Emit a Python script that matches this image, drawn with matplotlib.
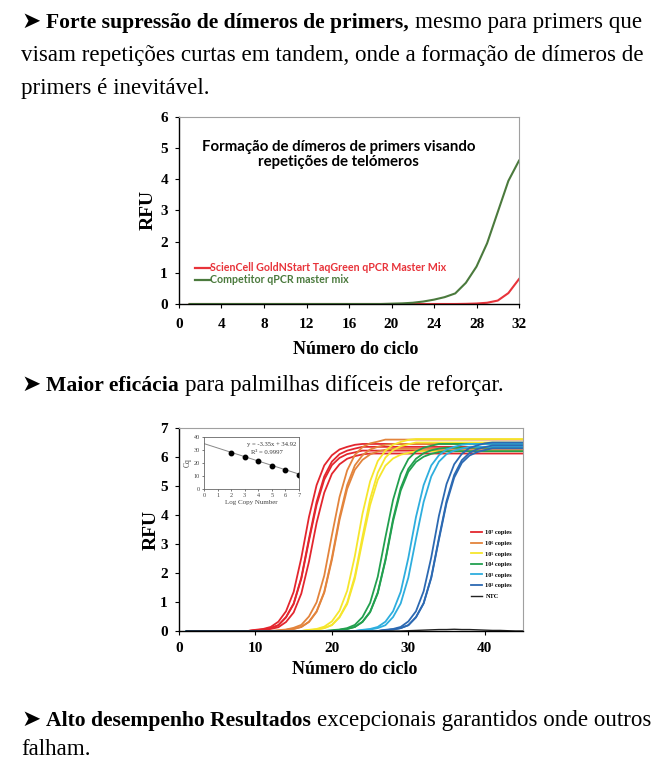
import numpy as np
import matplotlib
matplotlib.use("Agg")
import matplotlib.pyplot as plt

W, H = 659, 768
SERIF = ["Liberation Serif", "DejaVu Serif"]
ARROW = ["DejaVu Sans"]

# ---- chart 1: primer dimer formation (RFU per cycle) ----
cycles1 = np.arange(1, 33)
competitor = [0.0] * 19 + [0.01, 0.02, 0.04, 0.08, 0.14, 0.22, 0.34, 0.68,
                           1.2, 1.95, 2.95, 3.95, 4.6]
sciencell = [0.0] * 26 + [0.005, 0.015, 0.04, 0.11, 0.35, 0.8]
label_sc = "ScienCell GoldNStart TaqGreen qPCR Master Mix"
label_comp = "Competitor qPCR master mix"

# ---- chart 2: dilution series, (start cycle, rising values) per replicate ----
curves = {
    "red": [(10, [0.04, 0.07, 0.14, 0.32, 0.68, 1.35, 2.52, 3.93, 5.03, 5.71, 6.06, 6.26, 6.35, 6.42, 6.45]),
            (10, [0.03, 0.05, 0.10, 0.20, 0.48, 0.95, 1.84, 3.18, 4.45, 5.33, 5.84, 6.10, 6.22, 6.29, 6.35]),
            (10, [0.02, 0.05, 0.10, 0.20, 0.47, 0.93, 1.80, 3.11, 4.35, 5.22, 5.72, 5.97, 6.10, 6.16, 6.22]),
            (11, [0.04, 0.07, 0.13, 0.31, 0.64, 1.29, 2.39, 3.73, 4.77, 5.42, 5.75, 5.94, 6.03, 6.09, 6.12])],
    "orange": [(13, [0.03, 0.05, 0.11, 0.21, 0.50, 0.99, 1.91, 3.30, 4.62, 5.54, 6.07, 6.34, 6.47, 6.53, 6.60]),
               (14, [0.04, 0.07, 0.14, 0.32, 0.68, 1.35, 2.52, 3.93, 5.03, 5.71, 6.06, 6.26, 6.35, 6.42, 6.45]),
               (14, [0.04, 0.07, 0.14, 0.31, 0.66, 1.32, 2.45, 3.83, 4.90, 5.56, 5.90, 6.09, 6.19, 6.25, 6.28])],
    "yellow": [(17, [0.04, 0.07, 0.15, 0.33, 0.70, 1.39, 2.58, 4.04, 5.16, 5.86, 6.22, 6.42, 6.52, 6.59, 6.62]),
               (17, [0.03, 0.05, 0.10, 0.21, 0.49, 0.98, 1.89, 3.25, 4.55, 5.46, 5.98, 6.24, 6.37, 6.44, 6.50]),
               (17, [0.02, 0.05, 0.10, 0.20, 0.47, 0.93, 1.80, 3.10, 4.34, 5.21, 5.70, 5.95, 6.08, 6.14, 6.20])],
    "green": [(20, [0.03, 0.05, 0.10, 0.21, 0.48, 0.97, 1.87, 3.23, 4.52, 5.42, 5.93, 6.19, 6.32, 6.39, 6.45]),
              (21, [0.04, 0.07, 0.14, 0.32, 0.66, 1.33, 2.46, 3.86, 4.93, 5.59, 5.94, 6.13, 6.23, 6.29, 6.32]),
              (21, [0.04, 0.07, 0.14, 0.31, 0.65, 1.30, 2.42, 3.78, 4.84, 5.49, 5.83, 6.01, 6.11, 6.17, 6.20])],
    "cyan": [(24, [0.04, 0.07, 0.14, 0.32, 0.68, 1.35, 2.52, 3.93, 5.03, 5.71, 6.06, 6.26, 6.35, 6.42, 6.45]),
             (24, [0.03, 0.05, 0.10, 0.20, 0.48, 0.95, 1.84, 3.18, 4.45, 5.33, 5.84, 6.10, 6.22, 6.29, 6.35])],
    "blue": [(27, [0.04, 0.07, 0.14, 0.33, 0.68, 1.37, 2.54, 3.97, 5.07, 5.75, 6.11, 6.31, 6.40, 6.47, 6.50]),
             (27, [0.03, 0.05, 0.10, 0.20, 0.48, 0.96, 1.86, 3.20, 4.48, 5.38, 5.89, 6.14, 6.27, 6.34, 6.40]),
             (27, [0.03, 0.05, 0.10, 0.20, 0.47, 0.95, 1.83, 3.15, 4.41, 5.29, 5.80, 6.05, 6.17, 6.24, 6.30])],
}
ntc = (30, [0.01, 0.02, 0.03, 0.04, 0.05, 0.05, 0.06, 0.05, 0.05, 0.04, 0.03, 0.02, 0.02, 0.01, 0.0, 0.0])
n_cycles2 = 45
legend_labels = ["10⁷ copies", "10⁶ copies", "10⁵ copies", "10⁴ copies",
                 "10³ copies", "10² copies", "NTC"]

# inset: standard curve
log_copies = [2, 3, 4, 5, 6, 7]
cq = [27.9, 24.6, 21.3, 17.8, 14.5, 11.0]
fit_slope, fit_intercept = -3.35, 34.92

colors = {"red": "#e3262e", "orange": "#e3843c", "yellow": "#f6e62c",
          "green": "#22a04f", "cyan": "#2eaede", "blue": "#2c69b2"}

fig = plt.figure(figsize=(W / 100, H / 100), dpi=100)
fig.patch.set_facecolor("white")
renderer = fig.canvas.get_renderer()

BOLD_SIZE, REG_SIZE = 15.6, 16.6


def px(x, y):
    return x / W, 1 - y / H


def write_runs(x, y, parts):
    # parts: (text, weight, family); placed left to right on one baseline
    for txt, weight, fam in parts:
        size = BOLD_SIZE if weight == "bold" else REG_SIZE
        t = fig.text(*px(x, y), txt, fontsize=size, weight=weight,
                     family=fam, va="baseline", ha="left")
        bb = t.get_window_extent(renderer)
        x = x + bb.width + 6


def style_axes(ax, xpad=7):
    for s in ["top", "right"]:
        ax.spines[s].set_color("#a0a0a0")
        ax.spines[s].set_linewidth(0.8)
    for s in ["left", "bottom"]:
        ax.spines[s].set_color("black")
        ax.spines[s].set_linewidth(1.0)
    ax.tick_params(direction="out", length=3, width=0.8, labelsize=11)
    ax.tick_params(axis="x", pad=xpad)
    ax.tick_params(axis="y", pad=5)
    for lab in ax.get_xticklabels() + ax.get_yticklabels():
        lab.set_family(SERIF)
        lab.set_weight("bold")


# ---- text blocks ----
write_runs(21, 28, [("➤", "normal", ARROW),
                    ("Forte supressão de dímeros de primers,", "bold", SERIF),
                    ("mesmo para primers que", "normal", SERIF)])
fig.text(*px(21, 61), "visam repetições curtas em tandem, onde a formação de dímeros de",
         fontsize=REG_SIZE, family=SERIF, va="baseline")
fig.text(*px(21, 94), "primers é inevitável.", fontsize=REG_SIZE, family=SERIF, va="baseline")

write_runs(21, 391, [("➤", "normal", ARROW),
                     ("Maior eficácia", "bold", SERIF),
                     ("para palmilhas difíceis de reforçar.", "normal", SERIF)])

write_runs(21, 726, [("➤", "normal", ARROW),
                     ("Alto desempenho Resultados", "bold", SERIF),
                     ("excepcionais garantidos onde outros", "normal", SERIF)])
fig.text(*px(21, 755), "falham.", fontsize=REG_SIZE, family=SERIF, va="baseline")

# ---- chart 1 ----
ax1 = fig.add_axes([179 / W, 1 - 304 / H, 340 / W, 187 / H])
ax1.plot(cycles1, sciencell, color="#e8333a", lw=1.5)
ax1.plot(cycles1, competitor, color="#4b7a3d", lw=1.5)
ax1.set_xlim(0, 32)
ax1.set_ylim(0, 6)
ax1.set_xticks(range(0, 33, 4))
ax1.set_yticks(range(0, 7))
style_axes(ax1)
ax1.set_ylabel("RFU", fontsize=14, weight="bold", family=SERIF)
ax1.yaxis.set_label_coords(-0.067, 0.5)
ax1.set_xlabel("Número do ciclo", fontsize=13, weight="bold", family=SERIF)
ax1.xaxis.set_label_coords(0.52, -0.197)
ax1.text(0.47, 0.80, "Formação de dímeros de primers visando\nrepetições de telómeros",
         transform=ax1.transAxes, ha="center", va="center", fontsize=10.8,
         weight="bold", family="Lato", linespacing=1.15)
ax1.plot([0.047, 0.09], [0.195, 0.195], transform=ax1.transAxes, color="#e8333a", lw=1.6)
ax1.plot([0.047, 0.09], [0.13, 0.13], transform=ax1.transAxes, color="#4b7a3d", lw=1.6)
ax1.text(0.092, 0.195, label_sc, transform=ax1.transAxes, va="center",
         fontsize=7.7, weight="bold", family="Lato", color="#e8333a")
ax1.text(0.092, 0.13, label_comp, transform=ax1.transAxes, va="center",
         fontsize=7.7, weight="bold", family="Lato", color="#4b7a3d")

# ---- chart 2 ----
ax2 = fig.add_axes([179 / W, 1 - 631 / H, 344 / W, 203 / H])
cyc2 = np.arange(1, n_cycles2 + 1)
handles = []
for name, reps in curves.items():
    for start, vals in reps:
        y = np.concatenate([np.zeros(start - 1), vals,
                            np.full(n_cycles2 - (start - 1) - len(vals), vals[-1])])
        ln, = ax2.plot(cyc2, y, color=colors[name], lw=1.3)
    handles.append(ln)
start, vals = ntc
y = np.concatenate([np.zeros(start - 1), vals,
                    np.zeros(n_cycles2 - (start - 1) - len(vals))])
ln, = ax2.plot(cyc2, y, color="#222222", lw=1.0)
handles.append(ln)
ax2.set_xlim(0, 45)
ax2.set_ylim(0, 7)
ax2.set_xticks(range(0, 41, 10))
ax2.set_yticks(range(0, 8))
style_axes(ax2, xpad=5)
ax2.set_ylabel("RFU", fontsize=14, weight="bold", family=SERIF)
ax2.yaxis.set_label_coords(-0.056, 0.5)
ax2.set_xlabel("Número do ciclo", fontsize=13, weight="bold", family=SERIF)
ax2.xaxis.set_label_coords(0.51, -0.15)
leg = ax2.legend(handles, legend_labels, loc="lower right",
                 bbox_to_anchor=(0.985, 0.13), frameon=False, handlelength=1.6,
                 handletextpad=0.6, labelspacing=0.8,
                 prop={"family": SERIF, "size": 4.6, "weight": "bold"})

# inset standard curve
axi = fig.add_axes([204 / W, 1 - 489 / H, 95 / W, 52 / H])
xs = np.array([0, 7])
axi.plot(xs, fit_slope * xs + fit_intercept, color="#888888", lw=0.7)
axi.plot(log_copies, cq, "o", color="black", ms=3.2)
axi.set_xlim(0, 7)
axi.set_ylim(0, 40)
axi.set_xticks(range(0, 8))
axi.set_yticks(range(0, 41, 10))
for s in axi.spines.values():
    s.set_color("#666666")
    s.set_linewidth(0.6)
axi.tick_params(direction="out", length=1.5, width=0.5, labelsize=4.5, pad=1.5,
                colors="#444444")
for lab in axi.get_xticklabels() + axi.get_yticklabels():
    lab.set_family(SERIF)
axi.set_xlabel("Log Copy Number", fontsize=5, family=SERIF, labelpad=1, color="#444444")
axi.set_ylabel("Cq", fontsize=5.5, family=SERIF, labelpad=1, color="#444444")
axi.text(0.97, 0.86, "y = -3.35x + 34.92", transform=axi.transAxes, ha="right",
         va="center", fontsize=4.8, family=SERIF, color="#333333")
axi.text(0.83, 0.7, "R² = 0.9997", transform=axi.transAxes, ha="right",
         va="center", fontsize=4.8, family=SERIF, color="#333333")

fig.savefig("out.png", dpi=100)
